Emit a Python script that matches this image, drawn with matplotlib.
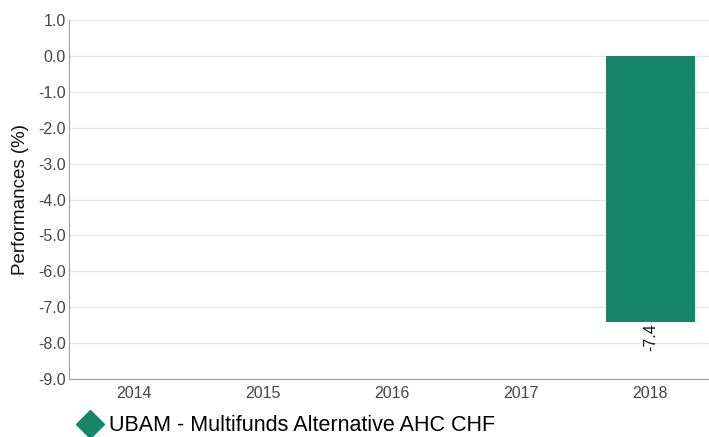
import matplotlib.pyplot as plt
from matplotlib.lines import Line2D

years = ["2014", "2015", "2016", "2017", "2018"]
perf = [None, None, None, None, -7.4]
yticks = [1.0, 0.0, -1.0, -2.0, -3.0, -4.0, -5.0, -6.0, -7.0, -8.0, -9.0]
series_name = "UBAM - Multifunds Alternative AHC CHF"

plt.rcParams['font.family'] = ['Liberation Sans', 'DejaVu Sans']
color = '#16866a'

fig = plt.figure(figsize=(7.09, 4.37), dpi=100)
ax = fig.add_axes([0.0973, 0.1327, 0.911, 0.8215])

xs = [i for i, v in enumerate(perf) if v is not None]
vals = [v for v in perf if v is not None]
bars = ax.bar(xs, vals, width=0.69, color=color, zorder=3)
for x, v in zip(xs, vals):
    ax.annotate(f"{v:.1f}", (x, v), xytext=(0, -1), textcoords='offset points',
                rotation=90, ha='center', va='top', fontsize=11.5, color='#111111')

ax.set_xlim(-0.5, len(years) - 0.5)
ax.set_ylim(-9, 1)
ax.set_xticks(range(len(years)))
ax.set_xticklabels(years)
ax.set_yticks(yticks)
ax.set_yticklabels([f"{t:.1f}" for t in yticks])
ax.tick_params(length=0, labelsize=11.5, colors='#444444')
ax.tick_params(axis='y', pad=2.5)
ax.tick_params(axis='x', pad=5)
ax.grid(axis='y', color='#e6e6e6', linewidth=1, zorder=0)
for s in ['top', 'right']:
    ax.spines[s].set_visible(False)
for s in ['left', 'bottom']:
    ax.spines[s].set_color('#a0a0a0')
ax.set_ylabel("Performances (%)", fontsize=13.5, color='#111111', labelpad=6)

handle = Line2D([], [], marker='D', linestyle='none', markersize=14,
                markerfacecolor=color, markeredgecolor=color)
fig.legend([handle], [series_name], loc='lower left', bbox_to_anchor=(0.082, -0.043),
           frameon=False, fontsize=15.5, handletextpad=0.25, handlelength=1.2)

fig.savefig("out.png", dpi=100)
